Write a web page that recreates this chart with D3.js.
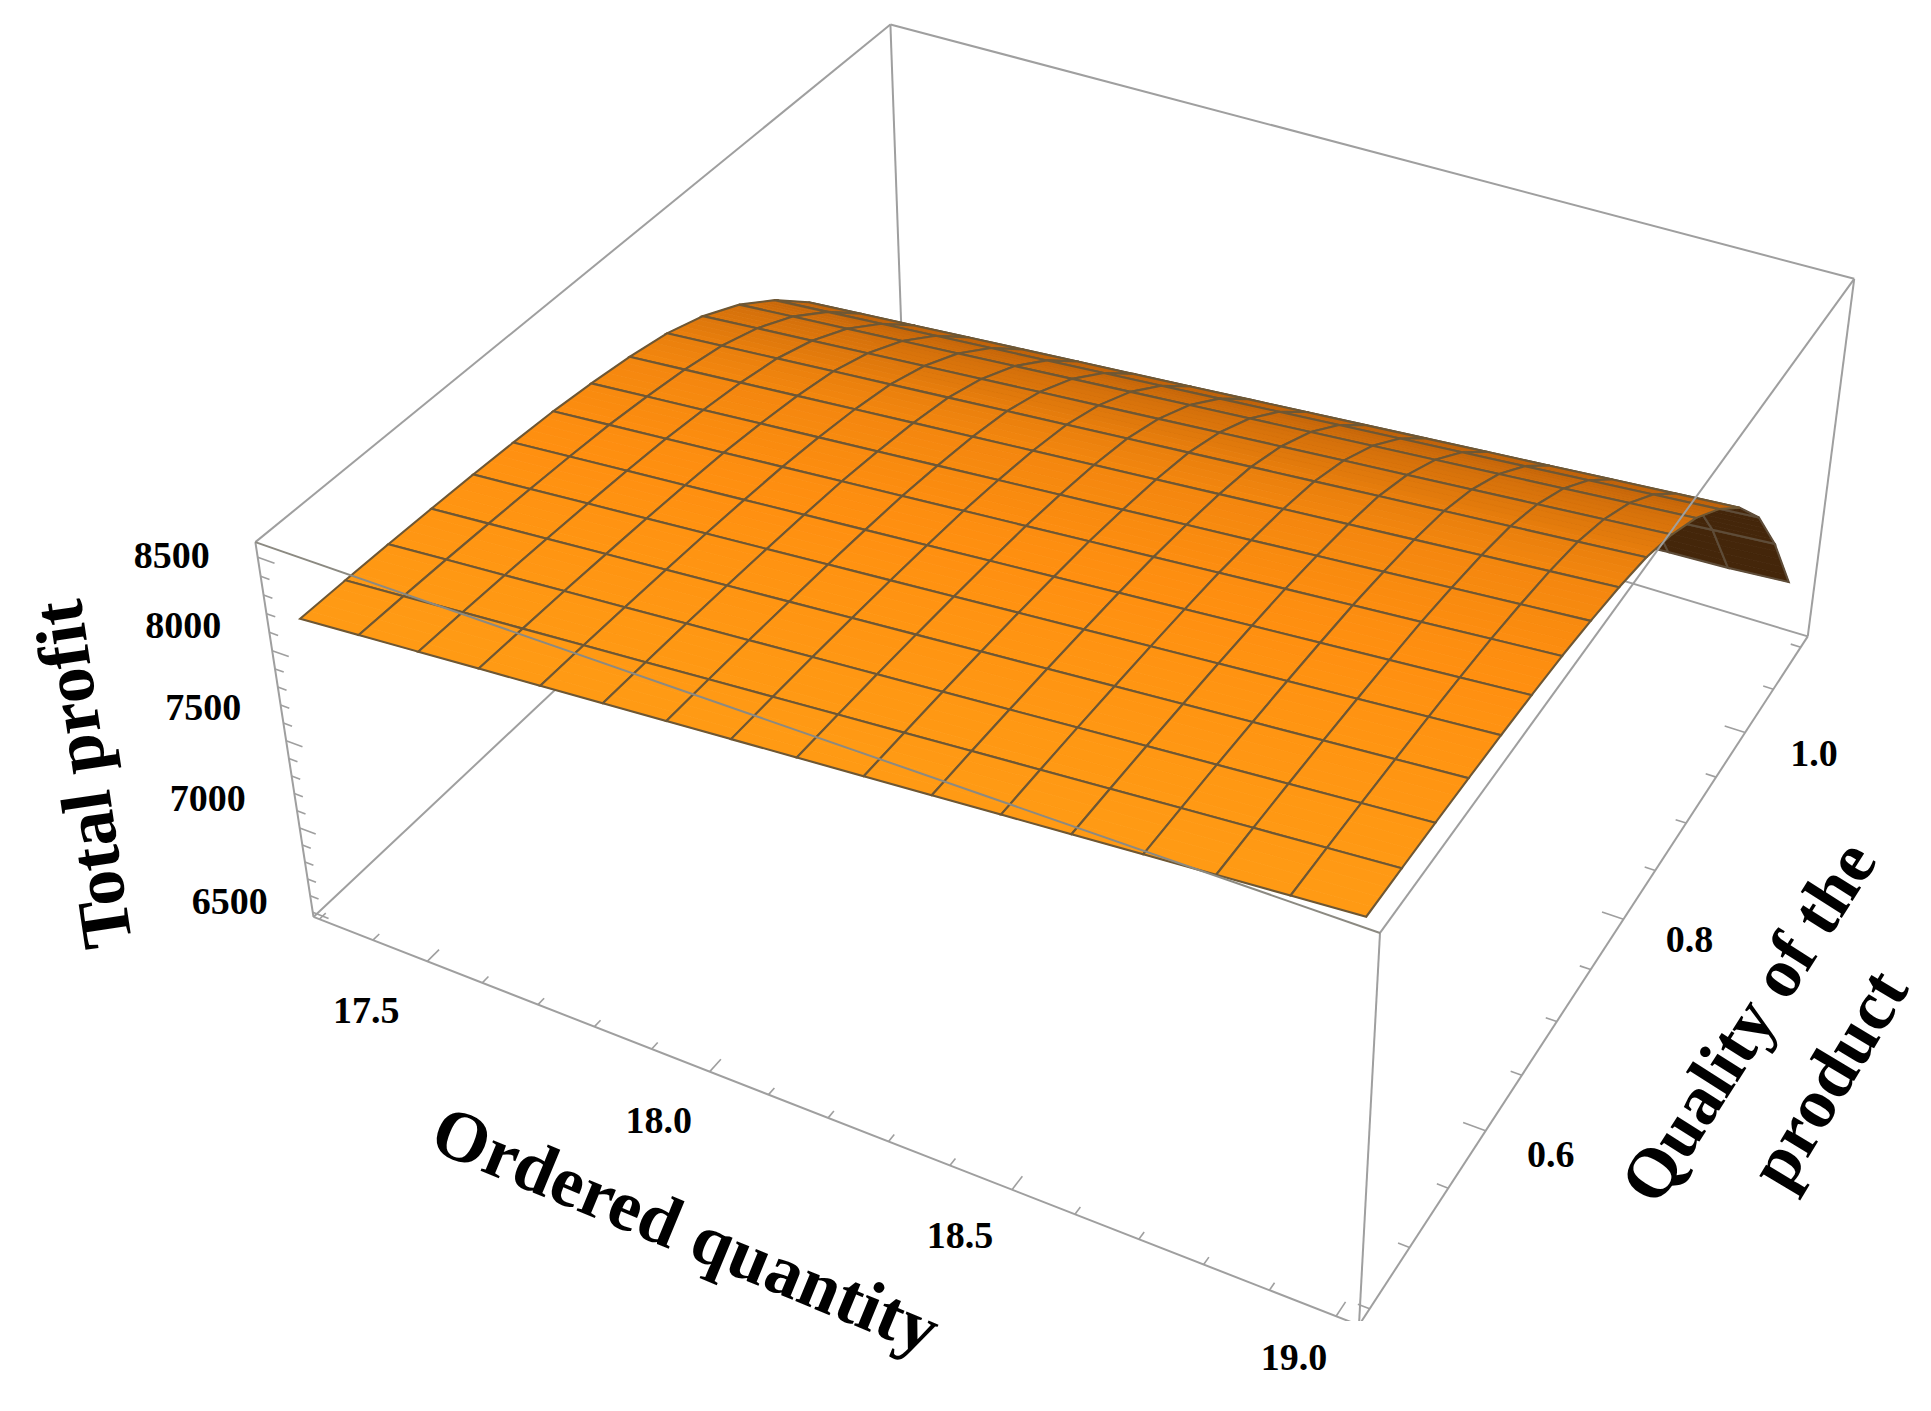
<!DOCTYPE html>
<html>
<head>
<meta charset="utf-8">
<script src="https://cdn.jsdelivr.net/npm/d3@7"></script>
<style>
  html, body { margin: 0; background: #fff; }
  text { font-family: "Liberation Serif", serif; font-weight: bold; fill: #000; }
</style>
</head>
<body>
<div id="chart"></div>
<script>
// tick labels
const quantityTicks = [17.5, 18.0, 18.5, 19.0];
const qualityTicks = [0.6, 0.8, 1.0];
const profitTicks = [6500, 7000, 7500, 8000, 8500];

// mesh positions of the surface
const quantityGrid = [17.32, 17.425, 17.53, 17.635, 17.74, 17.845, 17.95, 18.055, 18.16, 18.265, 18.37, 18.475, 18.58, 18.685, 18.79, 18.895, 19.0];
const qualityGrid = [0.45, 0.491, 0.531, 0.572, 0.613, 0.653, 0.694, 0.734, 0.775, 0.816, 0.856, 0.897, 0.938, 0.978, 1.019, 1.059, 1.1];

const profitTable = [
  [8140, 8165, 8190, 8215, 8240, 8265, 8290, 8315, 8340, 8365, 8390, 8415, 8440, 8465, 8490, 8515, 8540],
  [8140, 8165, 8190, 8215, 8240, 8265, 8290, 8315, 8340, 8365, 8390, 8415, 8440, 8465, 8490, 8515, 8540],
  [8138, 8163, 8188, 8213, 8238, 8263, 8288, 8313, 8338, 8363, 8388, 8413, 8438, 8463, 8488, 8513, 8538],
  [8133, 8158, 8183, 8208, 8233, 8258, 8283, 8308, 8333, 8358, 8383, 8408, 8433, 8458, 8483, 8508, 8533],
  [8126, 8151, 8176, 8201, 8226, 8251, 8276, 8301, 8326, 8351, 8376, 8401, 8426, 8451, 8476, 8501, 8526],
  [8116, 8141, 8166, 8191, 8216, 8241, 8266, 8291, 8316, 8341, 8366, 8391, 8416, 8441, 8466, 8491, 8516],
  [8102, 8127, 8152, 8177, 8202, 8227, 8252, 8277, 8302, 8327, 8352, 8377, 8402, 8427, 8452, 8477, 8502],
  [8078, 8103, 8128, 8153, 8178, 8203, 8228, 8253, 8278, 8303, 8328, 8353, 8378, 8403, 8428, 8453, 8478],
  [8046, 8071, 8096, 8121, 8146, 8171, 8196, 8221, 8246, 8271, 8296, 8321, 8346, 8371, 8396, 8421, 8446],
  [8000, 8025, 8050, 8075, 8100, 8125, 8150, 8175, 8200, 8225, 8250, 8275, 8300, 8325, 8350, 8375, 8400],
  [7925, 7950, 7975, 8000, 8025, 8050, 8075, 8100, 8125, 8150, 8175, 8200, 8225, 8250, 8275, 8300, 8325],
  [7815, 7840, 7865, 7890, 7915, 7940, 7965, 7990, 8015, 8040, 8065, 8090, 8115, 8140, 8165, 8190, 8215],
  [7665, 7690, 7715, 7740, 7765, 7790, 7815, 7840, 7865, 7890, 7915, 7940, 7965, 7990, 8015, 8040, 8065],
  [7480, 7505, 7530, 7555, 7580, 7605, 7630, 7655, 7680, 7705, 7730, 7755, 7780, 7805, 7830, 7855, 7880],
  [7225, 7250, 7275, 7300, 7325, 7350, 7375, 7400, 7425, 7450, 7475, 7500, 7525, 7550, 7575, 7600, 7625],
  [6875, 6900, 6925, 6950, 6975, 7000, 7025, 7050, 7075, 7100, 7125, 7150, 7175, 7200, 7225, 7250, 7275],
  [6490, 6512, 6535, 6557, 6580, 6602, 6625, 6647, 6670, 6692, 6715, 6737, 6760, 6782, 6805, 6817, 6840]
];

const width = 1931, height = 1411;
const svg = d3.select("#chart").append("svg").attr("width", width).attr("height", height);

// 视角：用盒子八个角在画面上的位置拟合一个透视投影 (u, v, w in 0..1)
const boxCorners = [
  [0,0,0,313.8,918],[1,0,0,1359,1325],[1,1,0,1807,638],[0,1,0,903,361],
  [0,0,1,255,542],[1,0,1,1380,932],[1,1,1,1855,278],[0,1,1,890,26]
];
function solve(A, b) {
  const n = b.length, M = A.map((r, i) => [...r, b[i]]);
  for (let c = 0; c < n; c++) {
    let p = c;
    for (let r = c + 1; r < n; r++) if (Math.abs(M[r][c]) > Math.abs(M[p][c])) p = r;
    [M[c], M[p]] = [M[p], M[c]];
    for (let r = 0; r < n; r++) {
      if (r === c) continue;
      const f = M[r][c] / M[c][c];
      for (let k = c; k <= n; k++) M[r][k] -= f * M[c][k];
    }
  }
  return M.map((r, i) => r[n] / r[i]);
}
const rows = [], rhs = [];
boxCorners.forEach(([u, v, w, x, y]) => {
  rows.push([1,u,v,w,0,0,0,0,-x*u,-x*v,-x*w]); rhs.push(x);
  rows.push([0,0,0,0,1,u,v,w,-y*u,-y*v,-y*w]); rhs.push(y);
});
const AtA = d3.range(11).map(i => d3.range(11).map(j => d3.sum(rows, r => r[i] * r[j])));
const Atb = d3.range(11).map(i => d3.sum(rows, (r, k) => r[i] * rhs[k]));
const P = solve(AtA, Atb);
const depth = (u, v, w) => 1 + P[8]*u + P[9]*v + P[10]*w;
const project = (u, v, w) => {
  const d = depth(u, v, w);
  return [(P[0]+P[1]*u+P[2]*v+P[3]*w)/d, (P[4]+P[5]*u+P[6]*v+P[7]*w)/d];
};

const qScale = d3.scaleLinear().domain([17.289, 19.034]).range([0, 1]);
const rScale = d3.scaleLinear().domain([0.437, 1.113]).range([0, 1]);
const zScale = d3.scaleLinear().domain([6472, 8580]).range([0, 1]);

const vertex = (i, j) => [qScale(quantityGrid[j]), rScale(qualityGrid[i]), zScale(profitTable[i][j])];
const line = d3.line();
function edge(g, a, b, color = "#9f9f9f") {
  g.append("path").attr("d", line([project(...a), project(...b)]))
    .attr("fill", "none").attr("stroke", color).attr("stroke-width", 2);
}

// 后面的盒边
const back = svg.append("g");
[[[0,1,0],[1,1,0]],[[0,1,0],[0,0,0]],[[0,1,0],[0,1,1]],[[0,1,1],[0,0,1]],[[0,1,1],[1,1,1]]].forEach(e => edge(back, ...e));

// 曲面：由远到近画
const shade = d3.scaleLinear().domain([-1.4, -0.6, -0.1, 0]).range(["#c4650a", "#e27a0c", "#ff8f10", "#ff9a14"]).clamp(true);
const slopeAt = (i, j) => {
  const a = Math.max(i - 1, 0), b = Math.min(i + 1, 16);
  return (zScale(profitTable[b][j]) - zScale(profitTable[a][j])) / (rScale(qualityGrid[b]) - rScale(qualityGrid[a]));
};
const cells = [];
d3.range(16).forEach(i => d3.range(16).forEach(j => {
  const c = vertex(i, j), e = vertex(i + 1, j + 1);
  cells.push({ i, j, d: depth((c[0]+e[0])/2, (c[1]+e[1])/2, (c[2]+e[2])/2) });
}));
cells.sort((a, b) => b.d - a.d);

const surf = svg.append("g");
const lerp3 = (a, b, t) => a.map((x, k) => x + (b[k] - x) * t);
cells.forEach(({ i, j }) => {
  const p00 = vertex(i, j), p01 = vertex(i, j+1), p10 = vertex(i+1, j), p11 = vertex(i+1, j+1);
  const s0 = (slopeAt(i, j) + slopeAt(i, j+1)) / 2, s1 = (slopeAt(i+1, j) + slopeAt(i+1, j+1)) / 2;
  const corners = [p00, p01, p11, p10].map(p => project(...p));
  const underside = d3.polygonArea(corners) < 0;
  const n = 5;
  for (let k = n - 1; k >= 0; k--) {
    const t0 = k / n, t1 = (k + 1) / n;
    const col = underside ? "#44260a" : shade(s0 + (s1 - s0) * (t0 + t1) / 2);
    const quad = [lerp3(p00, p10, t0), lerp3(p01, p11, t0), lerp3(p01, p11, t1), lerp3(p00, p10, t1)].map(p => project(...p));
    surf.append("path").attr("d", line(quad) + "Z").attr("fill", col).attr("stroke", col).attr("stroke-width", 0.8);
  }
  surf.append("path").attr("d", line(corners) + "Z").attr("fill", "none")
    .attr("stroke", underside ? "#5e4c38" : "#6e5734").attr("stroke-width", 2.1);
});

// 前面的盒边和刻度，底角在 y=1321 处断开
svg.append("clipPath").attr("id", "frontClip").append("rect").attr("width", width).attr("height", 1321);
const front = svg.append("g").attr("clip-path", "url(#frontClip)");
[[[0,0,0],[1,0,0]],[[1,0,0],[1,1,0]],[[1,1,0],[1,1,1]],[[1,0,0],[1,0,1]],[[0,0,0],[0,0,1]],[[1,0,1],[1,1,1]]].forEach(e => edge(front, ...e));
edge(front, [0,0,1], [1,0,1], "#8c8a82"); // 这条压在曲面上，颜色深一点

const tickLine = (a, b) => front.append("path").attr("d", line([project(...a), project(...b)]))
  .attr("fill", "none").attr("stroke", "#9f9f9f").attr("stroke-width", 1.6);
const isMajor = (list, t) => list.some(m => Math.abs(m - t) < 1e-6);
d3.range(17.3, 19.05, 0.1).forEach(t => {
  tickLine([qScale(t),0,0], [qScale(t), isMajor(quantityTicks, t) ? 0.017 : 0.009, 0]);
});
d3.range(0.45, 1.15, 0.05).forEach(t => {
  tickLine([1,rScale(t),0], [isMajor(qualityTicks, t) ? 0.98 : 0.99, rScale(t), 0]);
});
d3.range(6500, 8550, 100).forEach(t => {
  tickLine([0,0,zScale(t)], [isMajor(profitTicks, t) ? 0.017 : 0.009, 0, zScale(t)]);
});

// 刻度标签（原图是手动摆放的，所以每个有自己的偏移）
const label = (s, x, y) => svg.append("text").attr("x", x).attr("y", y).attr("text-anchor", "middle")
  .attr("dy", "0.35em").attr("font-size", 38).text(s);
const quantityOffset = [[-61,48],[-51,48],[-52,45],[-42,40]];
const qualityOffset = [[65,23],[66,19],[69,20]];
const profitOffset = [[-83,-12],[-92,-30],[-83,-34],[-89,-26],[-86,-3]];
quantityTicks.forEach((t, i) => {
  const p = project(qScale(t), 0, 0);
  label(t.toFixed(1), p[0] + quantityOffset[i][0], p[1] + quantityOffset[i][1]);
});
qualityTicks.forEach((t, i) => {
  const p = project(1, rScale(t), 0);
  label(t.toFixed(1), p[0] + qualityOffset[i][0], p[1] + qualityOffset[i][1]);
});
profitTicks.forEach((t, i) => {
  const p = project(0, 0, zScale(t));
  label(t, p[0] + profitOffset[i][0], p[1] + profitOffset[i][1]);
});

// 轴标题
const title = (s, x, y, a, size) => svg.append("text")
  .attr("transform", `translate(${x},${y}) rotate(${a})`)
  .attr("text-anchor", "middle").attr("dy", "0.3em").attr("font-size", size).text(s);
title("Total profit", 85, 774, -98.5, 72);
title("Ordered quantity", 685, 1232, 22.5, 72);
title("Quality of the", 1750, 1023, -57.5, 70);
title("product", 1830, 1080, -59, 71);
</script>
</body>
</html>
